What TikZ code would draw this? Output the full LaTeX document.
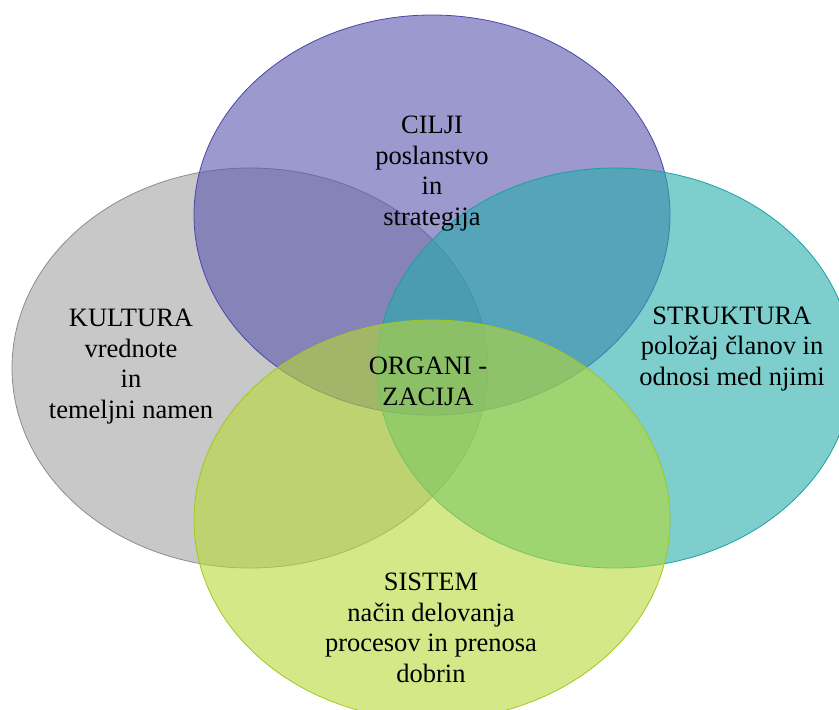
\documentclass[tikz,border=0pt]{standalone}
\usepackage{fontspec}
\setmainfont{Liberation Serif}
\definecolor{grayfill}{RGB}{163,163,163}
\definecolor{graylinec}{RGB}{140,140,140}
\definecolor{purplefill}{RGB}{90,85,173}
\definecolor{purplelinec}{RGB}{72,70,168}
\definecolor{tealfill}{RGB}{38,173,172}
\definecolor{teallinec}{RGB}{28,160,160}
\definecolor{greenfill}{RGB}{183,217,55}
\definecolor{greenlinec}{RGB}{160,200,30}
\begin{document}
\begin{tikzpicture}[x=1pt,y=-1pt,
  set/.style={line width=0.8pt,fill opacity=0.6},
  label/.style={align=center,anchor=base,inner sep=0pt,
    font=\fontsize{26.5}{30.5}\selectfont}]
\useasboundingbox (0,0) rectangle (839,710);
% the four overlapping sets
\filldraw[set,fill=grayfill,draw=graylinec]     (250,368) ellipse [x radius=238pt,y radius=200pt];
\filldraw[set,fill=purplefill,draw=purplelinec] (432,215) ellipse [x radius=238pt,y radius=200pt];
\filldraw[set,fill=tealfill,draw=teallinec]     (615,368) ellipse [x radius=238pt,y radius=200pt];
\filldraw[set,fill=greenfill,draw=greenlinec]   (432,520) ellipse [x radius=238pt,y radius=200pt];
% labels, placed by the baseline of their last line
\node[label] (cilji)     at (432,225) {CILJI\\poslanstvo\\in\\strategija};
\node[label] (kultura)   at (131,418) {KULTURA\\vrednote\\in\\temeljni namen};
\node[label] (struktura) at (732,385) {STRUKTURA\\položaj članov in\\odnosi med njimi};
\node[label] (sistem)    at (431,682) {SISTEM\\način delovanja\\procesov in prenosa\\dobrin};
\node[label] (org)       at (428,405) {ORGANI -\\ZACIJA};
\end{tikzpicture}
\end{document}
